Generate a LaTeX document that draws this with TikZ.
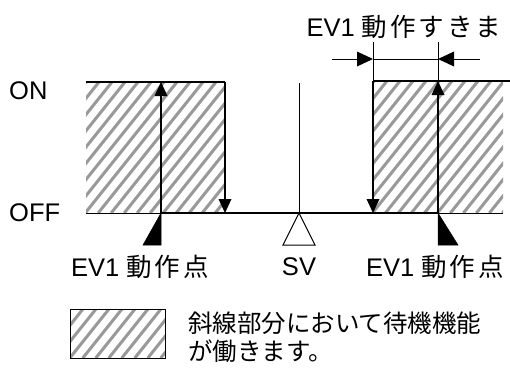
\documentclass[tikz,border=0pt]{standalone}
\usepackage{fontspec}
\setmainfont{Liberation Sans}
\newfontfamily\cjk{Noto Sans CJK JP}
\usetikzlibrary{calc}
\tikzset{
  thick line/.style={line width=2pt},
  thin line/.style={line width=1pt},
  hatchline/.style={line width=3pt, gray!80},
  headfill/.style={fill=black},
  lbl/.style={inner sep=0pt, font=\fontsize{25.5}{29}\selectfont},
}
\newcommand\hatchrect[4]{%
  \begin{scope}
    \clip (#1,#2) rectangle (#3,#4);
    \foreach \k in {0,...,30}{
      \draw[hatchline] ({#1-(#4-#2)*0.8+\k*13},#4) -- ++({(#4-#2)*0.8},{-(#4-#2)});
    }
  \end{scope}}
\newcommand\headup[1]{\fill[headfill] (#1) -- ++(-6.5,14) -- ++(13,0) -- cycle;}
\newcommand\headdown[1]{\fill[headfill] (#1) -- ++(-6.5,-14) -- ++(13,0) -- cycle;}
\newcommand\headright[1]{\fill[headfill] (#1) -- ++(-16,-7.5) -- ++(0,15) -- cycle;}
\newcommand\headleft[1]{\fill[headfill] (#1) -- ++(16,-7.5) -- ++(0,15) -- cycle;}
\newcommand\jp[1]{{\cjk\fontsize{25.5}{29}\selectfont #1}}
\begin{document}
\begin{tikzpicture}[x=1pt,y=-1pt]
\useasboundingbox[fill=white] (0,0) rectangle (510,372);
% hatching
\hatchrect{86}{82}{224}{213}
\hatchrect{374}{81}{503}{213}
\hatchrect{70}{309}{165}{358}
% key points
\coordinate (L0) at (86,82);
\coordinate (L1) at (161,82);
\coordinate (L2) at (225,82);
\coordinate (B0) at (86,213);
\coordinate (B1) at (161,213);
\coordinate (B2) at (225,213);
\coordinate (SVt) at (299,83);
\coordinate (SV) at (299,213);
\coordinate (B3) at (373,213);
\coordinate (B4) at (438,213);
\coordinate (B5) at (503,213);
\coordinate (R0) at (373,81);
\coordinate (R1) at (438,81);
\coordinate (R2) at (510,81);
\coordinate (E0) at (373,42);
\coordinate (E1) at (438,42);
\coordinate (D0) at (332,59);
\coordinate (D1) at (373,59);
\coordinate (D2) at (480,59);
\coordinate (D3) at (438,59);
% lines
\draw[thick line] (L0) -- (L2);
\draw[thick line] (R0) -- (R2);
\draw[thin line] (B0) -- (B1);
\draw[thin line] (B4) -- (B5);
\draw[thick line] (B1) -- (B4);
\draw[thick line] (B1) -- ($(L1)+(0,8)$); \headup{L1}
\draw[thick line] (L2) -- ($(B2)+(0,-8)$); \headdown{B2}
\draw[thick line] (R0) -- ($(B3)+(0,-8)$); \headdown{B3}
\draw[thick line] (B4) -- ($(R1)+(0,8)$); \headup{R1}
\draw[thin line] (SVt) -- (SV);
% dimension
\draw[thin line] (E0) -- (R0);
\draw[thin line] (E1) -- (R1);
\draw[thin line] (D1) -- (D3);
\draw[thin line] (D0) -- ($(D1)+(-8,0)$); \headright{D1}
\draw[thin line] (D2) -- ($(D3)+(8,0)$); \headleft{D3}
% markers
\draw[fill=black, line width=0.5pt] (B1) -- (161,245) -- (143,245) -- cycle;
\draw[fill=black, line width=0.5pt] (B4) -- (438,245) -- (458,245) -- cycle;
\draw[thin line, fill=white] (SV) -- (315,245) -- (283,245) -- cycle;
% legend box
\draw[thin line] (70,309) rectangle (165,358);
% texts
\node[lbl, anchor=west] (on) at (9,91) {ON};
\node[lbl, anchor=west] (off) at (9,213) {OFF};
\node[lbl] (ev1a) at (140,267) {EV1 \jp{動\hspace{3pt}作\hspace{3pt}点}};
\node[lbl] (ev1b) at (435,267) {EV1 \jp{動\hspace{3pt}作\hspace{3pt}点}};
\node[lbl] (sv) at (299,267) {SV};
\node[lbl] (gap) at (404,27) {EV1 \jp{動\hspace{3pt}作\hspace{3pt}す\hspace{3pt}き\hspace{3pt}ま}};
\node[inner sep=0pt, anchor=north west, align=left, font=\cjk\fontsize{24.5}{27.5}\selectfont] (leg) at (188,312) {斜線部分において待機機能\\が働きます。};
\end{tikzpicture}
\end{document}
